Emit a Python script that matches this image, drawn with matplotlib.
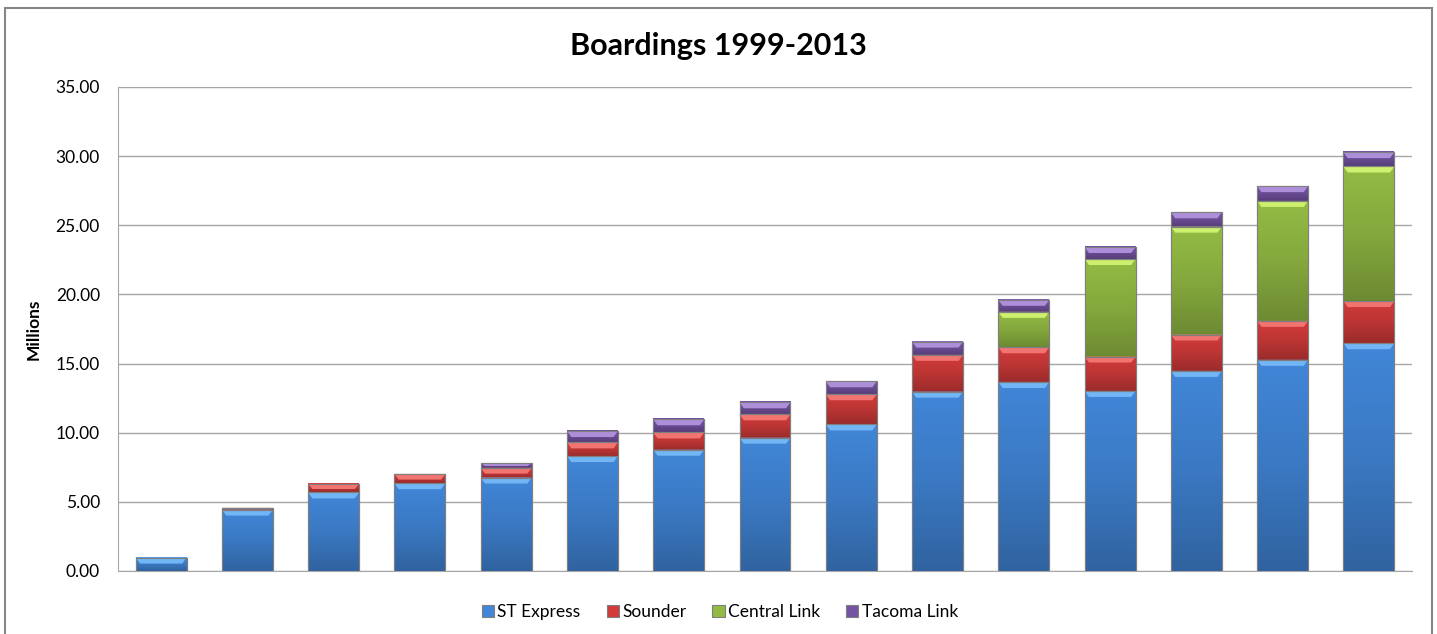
import numpy as np
import matplotlib
matplotlib.use("Agg")
import matplotlib.pyplot as plt
from matplotlib.patches import Polygon, Rectangle
from matplotlib.colors import to_rgb, LinearSegmentedColormap

plt.rcParams['font.family'] = ['Lato', 'DejaVu Sans']

# Boardings in millions, 1999-2013
years = list(range(1999, 2014))
st_express = [0.97, 4.44, 5.68, 6.35, 6.76, 8.31, 8.77, 9.64, 10.60, 12.97, 13.67, 13.02, 14.47, 15.27, 16.47]
sounder = [0.00, 0.12, 0.62, 0.65, 0.70, 0.99, 1.25, 1.69, 2.18, 2.66, 2.51, 2.49, 2.63, 2.82, 3.05]
central_link = [0.00, 0.00, 0.00, 0.00, 0.00, 0.00, 0.00, 0.00, 0.00, 0.00, 2.56, 7.05, 7.80, 8.67, 9.73]
tacoma_link = [0.00, 0.00, 0.00, 0.00, 0.34, 0.82, 0.95, 0.87, 0.94, 0.96, 0.87, 0.87, 1.04, 1.07, 1.04]

# name, values, body colour, bevel highlight colour
series = [
    ("ST Express", st_express, "#4186d8", "#72b6f6"),
    ("Sounder", sounder, "#d13b3a", "#f27470"),
    ("Central Link", central_link, "#93bb44", "#cdf06e"),
    ("Tacoma Link", tacoma_link, "#7553a3", "#ad8ed8"),
]


def shade(c, f):
    return tuple(np.array(to_rgb(c)) * f)


fig = plt.figure(figsize=(14.37, 6.34), dpi=100)
ax = fig.add_axes([0.0821, 0.0994, 0.9005, 0.7634])

x = np.arange(len(years))
width = 0.59
bottom = np.zeros(len(years))
containers = []
for name, vals, col, hi in series:
    vals = np.array(vals)
    bc = ax.bar(x, vals, width, bottom=bottom, color=col, edgecolor="#7f7f7f",
                linewidth=0.8, label=name, zorder=2)
    containers.append(bc)
    bottom = bottom + vals

ax.set_xlim(-0.5, len(years) - 0.5)
ax.set_ylim(0, 35)

# bevel look: vertical gradient and a light strip at the top of every segment
grad = np.linspace(0, 1, 64).reshape(-1, 1)
px_per_unit = ax.get_window_extent().height / 35.0
bev = 6.0 / px_per_unit
for (name, vals, col, hi), bc in zip(series, containers):
    cmap = LinearSegmentedColormap.from_list(name, [shade(col, 0.74), shade(col, 0.9), col])
    for p in bc.patches:
        h = p.get_height()
        if h <= 0:
            continue
        x0, y0, w = p.get_x(), p.get_y(), p.get_width()
        ax.imshow(grad, cmap=cmap, extent=[x0, x0 + w, y0, y0 + h],
                  aspect="auto", origin="lower", zorder=3, interpolation="bilinear")
        bh = min(bev, h * 0.6)
        dx = 0.05
        top = y0 + h
        ax.add_patch(Polygon([(x0, top), (x0 + w, top), (x0 + w - dx, top - bh), (x0 + dx, top - bh)],
                             closed=True, facecolor=hi, edgecolor="none", zorder=4))
        ax.add_patch(Rectangle((x0, y0), w, h, facecolor="none", edgecolor="#7f7f7f",
                               linewidth=0.8, zorder=5))

ax.set_yticks(np.arange(0, 36, 5))
ax.set_yticklabels([f"{v:.2f}" for v in np.arange(0, 36, 5)], fontsize=12.5)
ax.set_xticks([])
ax.tick_params(axis="y", length=0, pad=13)
ax.yaxis.grid(True, color="#a6a6a6", linewidth=1.0)
ax.set_axisbelow(True)
for s in ["top", "right"]:
    ax.spines[s].set_visible(False)
ax.spines["left"].set_color("#a6a6a6")
ax.spines["bottom"].set_color("#a6a6a6")
ax.set_ylabel("Millions", fontsize=12.5, fontweight="bold", labelpad=10)

fig.text(0.5, 0.928, "Boardings 1999-2013", ha="center", va="center",
         fontsize=22, fontweight="bold")

fig.legend(handles=containers, labels=[s[0] for s in series], loc="center",
           bbox_to_anchor=(0.501, 0.034), ncol=4, frameon=False, fontsize=12.5,
           handlelength=0.7, handleheight=0.7, handletextpad=0.2, columnspacing=1.5)

fig.patches.append(Rectangle((0.0035, -0.02), 0.993, 1.007, transform=fig.transFigure,
                             facecolor="none", edgecolor="#868686", linewidth=1.5))

fig.savefig("out.png", dpi=100)
